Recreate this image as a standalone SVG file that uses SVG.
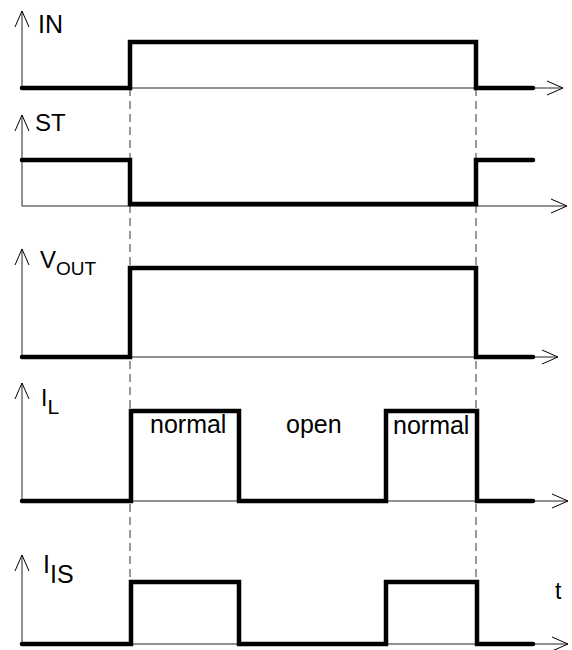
<svg xmlns="http://www.w3.org/2000/svg" width="572" height="650" viewBox="0 0 572 650">
<defs>
<marker id="arr" markerUnits="userSpaceOnUse" markerWidth="18" markerHeight="16" refX="16" refY="7" orient="auto" overflow="visible">
<path d="M0,0 L16,7 L0,14" fill="none" stroke="#000" stroke-width="1"/>
</marker>
</defs>
<style>
.axis{stroke:#222;stroke-width:1;fill:none;marker-end:url(#arr)}
.sig{stroke:#000;stroke-width:4.5;fill:none;stroke-linecap:round;stroke-linejoin:miter}
.dash{stroke:#333;stroke-width:1;stroke-dasharray:8,5;fill:none}
text{font-family:"Liberation Sans",Arial,sans-serif;fill:#000}
</style>
<rect width="572" height="650" fill="#fff"/>
<g id="connectors">
<line class="dash" x1="130" y1="88" x2="130" y2="582"/>
<line class="dash" x1="476" y1="88" x2="476" y2="582"/>
</g>
<g id="IN">
<line class="axis" x1="22" y1="88" x2="22" y2="11"/>
<line class="axis" x1="22" y1="88" x2="563" y2="88"/>
<path class="sig" d="M22,88 H130 V42 H476 V88 H533"/>
<text x="38" y="33" font-size="25">IN</text>
</g>
<g id="ST">
<line class="axis" x1="22" y1="206" x2="22" y2="115"/>
<line class="axis" x1="22" y1="206" x2="567" y2="206"/>
<path class="sig" d="M22,160 H130 V204 H476 V160 H533"/>
<text x="35" y="131" font-size="24">ST</text>
</g>
<g id="VOUT">
<line class="axis" x1="22" y1="357" x2="22" y2="249"/>
<line class="axis" x1="22" y1="357" x2="558" y2="357"/>
<path class="sig" d="M22,357 H130 V268 H476 V357 H533"/>
<text x="40" y="268" font-size="24">V<tspan font-size="19" dy="7">OUT</tspan></text>
</g>
<g id="IL">
<line class="axis" x1="22" y1="501" x2="22" y2="383"/>
<line class="axis" x1="22" y1="501" x2="568" y2="501"/>
<path class="sig" d="M22,501 H131 V411 H239 V501 H386 V411 H477 V501 H533"/>
<text x="41" y="406" font-size="23">I<tspan font-size="21" dy="8">L</tspan></text>
<text x="150" y="433" font-size="25">normal</text>
<text x="286" y="433" font-size="25">open</text>
<text x="393" y="434" font-size="25">normal</text>
</g>
<g id="IIS">
<line class="axis" x1="22" y1="644" x2="22" y2="555"/>
<line class="axis" x1="22" y1="644" x2="568" y2="644"/>
<path class="sig" d="M22,644 H131 V582 H239 V644 H386 V582 H477 V644 H533"/>
<text x="43" y="573" font-size="25">I<tspan font-size="25" dy="10">IS</tspan></text>
<text x="555" y="599" font-size="23">t</text>
</g>
</svg>
